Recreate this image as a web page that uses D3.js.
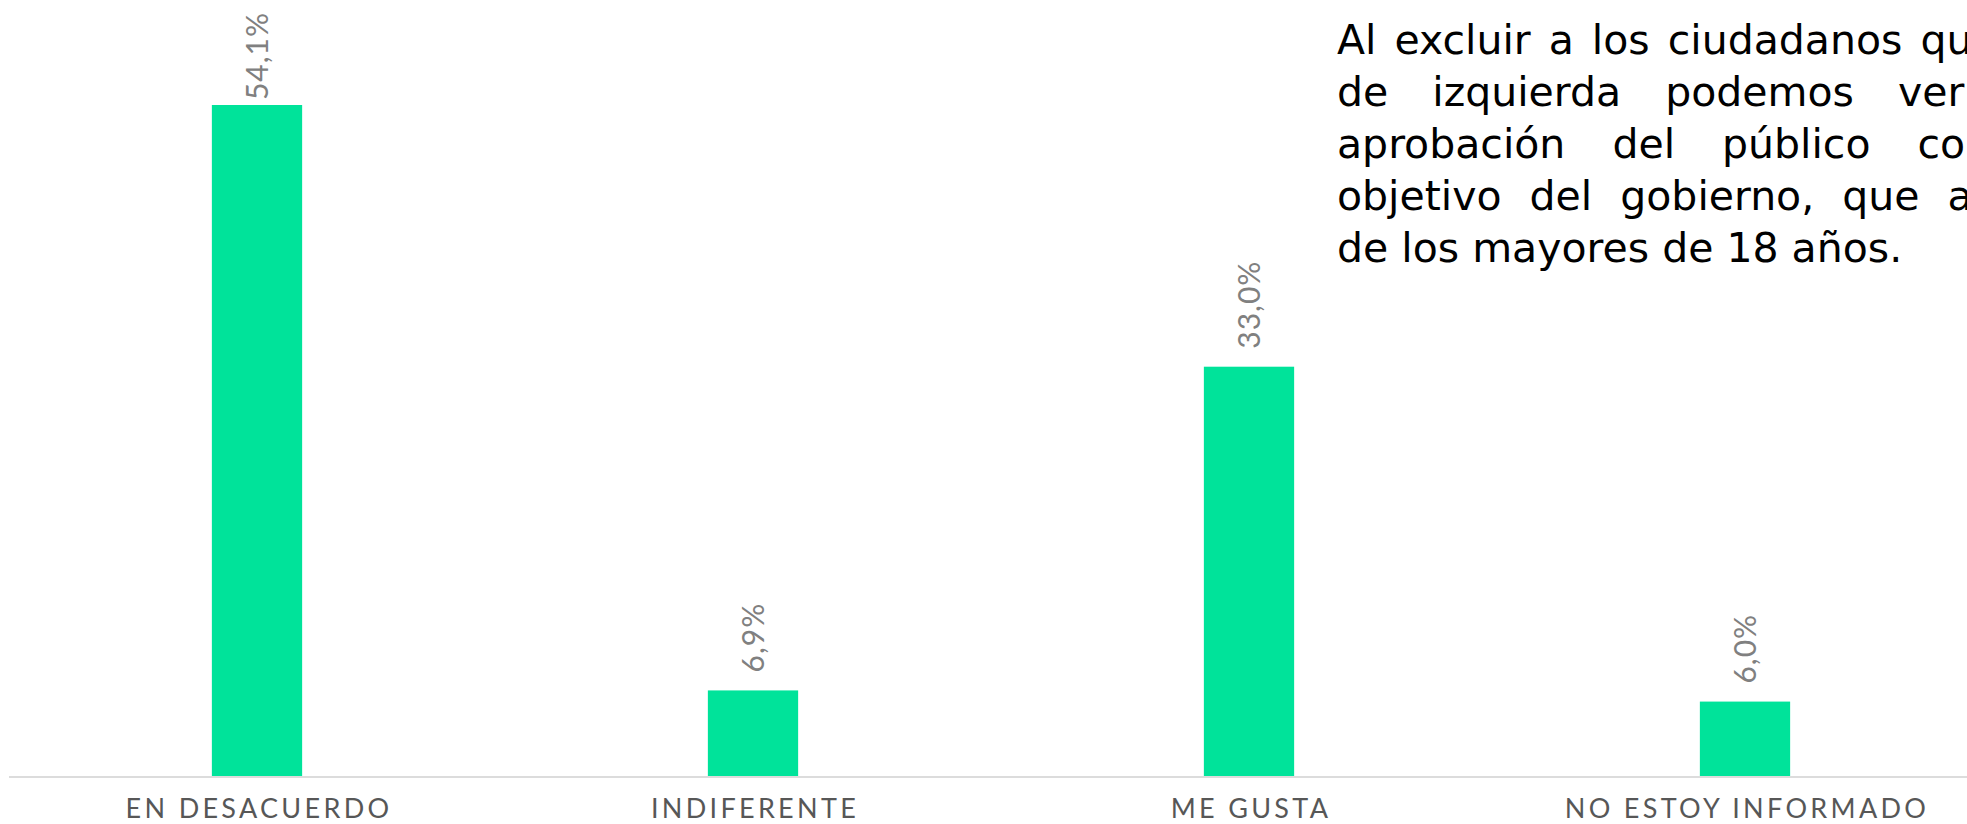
<!DOCTYPE html>
<html>
<head>
<meta charset="utf-8">
<script src="https://cdn.jsdelivr.net/npm/d3@7"></script>
<style>
  html, body { margin: 0; padding: 0; background: #fff; overflow: hidden; }
  svg { display: block; }
</style>
</head>
<body>
<div id="chart"></div>
<script>
// chart data
const categories = ["EN DESACUERDO", "INDIFERENTE", "ME GUSTA", "NO ESTOY INFORMADO"];
const values = [54.1, 6.9, 33.0, 6.0];

// side note (justified paragraph, cut by the right edge in the original)
const noteLines = [
  "Al excluir a los ciudadanos que se consideran",
  "de izquierda podemos ver que la",
  "aprobación del público coincide con el",
  "objetivo del gobierno, que apunta al 35%",
  "de los mayores de 18 años."
];
const noteWordSpacing = [5, 31, 34, 15, 0];

const w = 1967;
const h = 824;
const baseY = 776;
const topY = 105;

const esLocale = d3.formatLocale({decimal: ",", thousands: ".", grouping: [3], currency: ["", "€"]});
const fmt = v => esLocale.format(".1f")(v) + "%";

function init(){
    const svg = d3.select("#chart")
                .append("svg")
                .attr("width", w)
                .attr("height", h)
                .attr("viewBox", [0, 0, w, h]);

    const x = d3.scaleBand()
                .domain(categories)
                .range([9, 1993])
                .paddingInner(0.818)
                .paddingOuter(0.409);

    const y = d3.scaleLinear()
                .domain([0, d3.max(values)])
                .range([baseY, topY]);

    const data = categories.map((c, i) => ({cat: c, value: values[i]}));

    // bars
    svg.append("g")
        .selectAll("rect")
        .data(data)
        .join("rect")
        .attr("x", d => x(d.cat))
        .attr("y", d => y(d.value))
        .attr("width", x.bandwidth())
        .attr("height", d => y(0) - y(d.value))
        .attr("fill", "#00e39a");

    // baseline
    svg.append("line")
        .attr("x1", 9)
        .attr("x2", w)
        .attr("y1", y(0) + 1)
        .attr("y2", y(0) + 1)
        .attr("stroke", "#dcdcdc")
        .attr("stroke-width", 2);

    // category labels
    svg.append("g")
        .selectAll("text")
        .data(data)
        .join("text")
        .attr("x", d => x(d.cat) + x.bandwidth() / 2 + 2)
        .attr("y", 818)
        .attr("text-anchor", "middle")
        .attr("font-family", "Lato, sans-serif")
        .attr("font-size", 27)
        .attr("letter-spacing", 3.3)
        .attr("fill", "#575757")
        .text(d => d.cat);

    // value labels, rotated; keep them inside the top of the chart
    const vl = svg.append("g")
        .selectAll("text")
        .data(data)
        .join("text")
        .attr("text-anchor", "start")
        .attr("font-family", "Lato, sans-serif")
        .attr("font-size", 30)
        .attr("letter-spacing", 1)
        .attr("fill", "#808080")
        .attr("dy", "0.36em")
        .text(d => fmt(d.value));

    vl.each(function(d){
        const len = this.getComputedTextLength();
        const cx = x(d.cat) + x.bandwidth() / 2;
        const cy = Math.max(y(d.value) - 18, 12 + len);
        d3.select(this).attr("transform", `translate(${cx},${cy}) rotate(-90)`);
    });

    // note
    svg.append("g")
        .selectAll("text")
        .data(noteLines)
        .join("text")
        .attr("x", 1337)
        .attr("y", (d, i) => 54 + i * 52)
        .attr("font-family", "'DejaVu Sans', sans-serif")
        .attr("font-size", 41)
        .attr("word-spacing", (d, i) => noteWordSpacing[i])
        .attr("fill", "#000")
        .text(d => d);
}

window.onload = init;
</script>
</body>
</html>
